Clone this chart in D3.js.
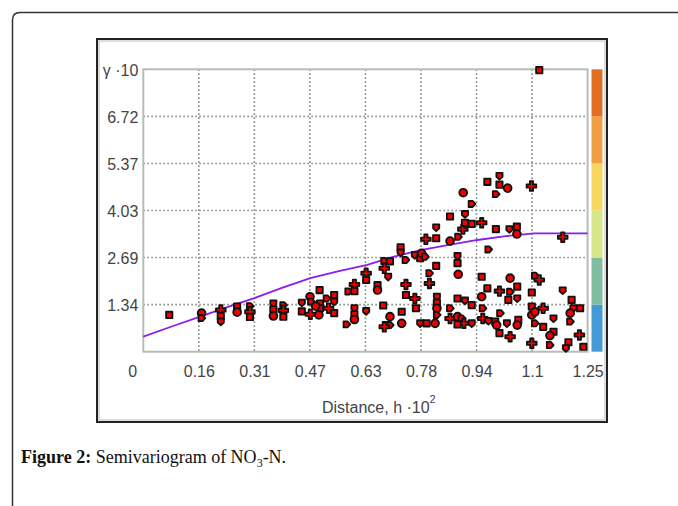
<!DOCTYPE html>
<html>
<head>
<meta charset="utf-8">
<script src="https://cdn.jsdelivr.net/npm/d3@7"></script>
<style>
  html, body { margin: 0; padding: 0; background: #fff; }
  svg { display: block; }
</style>
</head>
<body>
<svg id="chart" width="678" height="506"></svg>
<script>
// Semivariogram of NO3-N: experimental pairs (distance h·10^2, gamma·10) and fitted model

const xTickValues = [0, 0.15625, 0.3125, 0.46875, 0.625, 0.78125, 0.9375, 1.09375, 1.25];
const xTickLabels = ["0", "0.16", "0.31", "0.47", "0.63", "0.78", "0.94", "1.1", "1.25"];
const yTickValues = [1.344, 2.688, 4.032, 5.376, 6.72, 8.064];
const yTickLabels = ["1.34", "2.69", "4.03", "5.37", "6.72", "γ ·10"];

// experimental semivariance pairs
const distances = [
  0.073, 0.164, 0.164, 0.218, 0.218, 0.218, 0.264, 0.264, 0.300, 0.300,
  0.300, 0.366, 0.366, 0.366, 0.394, 0.394, 0.394, 0.446, 0.446, 0.469,
  0.472, 0.470, 0.496, 0.497, 0.497, 0.494, 0.516, 0.521, 0.537, 0.537,
  0.537, 0.485, 0.577, 0.594, 0.594, 0.594, 0.594, 0.594, 0.572, 0.627,
  0.627, 0.627, 0.659, 0.659, 0.678, 0.678, 0.694, 0.689, 0.675, 0.694,
  0.694, 0.678, 0.724, 0.724, 0.727, 0.727, 0.738, 0.739, 0.739, 0.764,
  0.779, 0.783, 0.793, 0.764, 0.767, 0.779, 0.797, 0.821, 0.805, 0.805,
  0.824, 0.826, 0.826, 0.826, 0.826, 0.795, 0.824, 0.824, 0.863, 0.863,
  0.886, 0.899, 0.905, 0.905, 0.924, 0.900, 0.924, 0.952, 0.968, 1.002,
  1.002, 1.025, 0.992, 1.092, 0.992, 1.030, 1.051, 1.051, 0.971, 1.180,
  1.114, 0.884, 0.884, 0.886, 0.863, 0.863, 0.884, 0.905, 0.924, 0.884,
  0.896, 0.902, 0.884, 0.924, 0.952, 0.952, 0.955, 0.955, 0.968, 0.971,
  0.990, 0.994, 1.004, 1.002, 1.002, 1.023, 1.027, 1.032, 1.032, 1.032,
  1.052, 1.052, 1.055, 1.052, 1.102, 1.114, 1.093, 1.180, 1.093, 1.093,
  1.102, 1.125, 1.125, 1.154, 1.154, 1.144, 1.144, 1.093, 1.205, 1.210,
  1.229, 1.201, 1.201, 1.227, 1.196, 1.189, 1.238, 1.102
];
const gammas = [
  1.05, 1.10, 0.96, 1.19, 1.02, 0.86, 1.29, 1.13, 1.30, 1.14,
  0.99, 1.38, 1.21, 1.02, 1.33, 1.18, 1.00, 1.40, 1.15, 1.57,
  1.43, 1.07, 1.76, 1.38, 1.24, 1.05, 1.52, 1.24, 1.62, 1.43,
  1.10, 1.30, 1.72, 1.92, 1.73, 1.24, 1.07, 0.92, 0.78, 2.24,
  2.05, 1.16, 1.90, 1.76, 2.59, 2.38, 2.58, 2.14, 1.32, 1.00,
  0.76, 0.71, 2.98, 2.83, 1.14, 0.81, 2.62, 1.92, 1.62, 2.76,
  2.67, 2.81, 2.71, 1.52, 1.24, 0.81, 0.81, 0.81, 2.24, 1.95,
  2.45, 1.57, 1.40, 1.24, 1.05, 3.21, 3.24, 3.55, 3.86, 3.16,
  3.28, 3.50, 3.68, 3.93, 3.65, 4.54, 4.22, 3.68, 4.85, 5.02,
  4.77, 4.67, 4.50, 4.73, 3.50, 3.50, 3.57, 3.36, 2.92, 3.27,
  8.04, 2.73, 2.53, 2.21, 1.24, 0.95, 1.52, 1.46, 1.33, 1.00,
  0.95, 0.81, 0.78, 0.81, 2.14, 1.57, 1.24, 0.95, 1.81, 0.88,
  0.86, 0.76, 1.10, 1.73, 0.53, 0.81, 1.48, 2.10, 1.71, 0.43,
  1.86, 1.52, 0.91, 0.76, 2.17, 2.05, 1.69, 1.75, 1.29, 1.05,
  0.81, 1.24, 0.71, 0.95, 0.57, 0.46, 0.19, 0.24, 1.48, 1.24,
  1.24, 1.10, 0.86, 0.48, 0.27, 0.10, 0.14, 1.14
];

// fitted model curve
const modelH = [0, 0.08, 0.16, 0.23, 0.31, 0.39, 0.47, 0.55, 0.63, 0.70, 0.78, 0.86, 0.94, 1.02, 1.10, 1.25];
const modelGamma = [0.43, 0.72, 1.00, 1.25, 1.52, 1.82, 2.10, 2.30, 2.48, 2.70, 2.90, 3.05, 3.19, 3.30, 3.38, 3.38];

// colour bar bands (bottom to top)
const bandColors = ["#2f8fd0", "#72b696", "#d2e47c", "#f6d24e", "#ef9230", "#df5e0e"];

const svg = d3.select("#chart");

// outer page box with rounded top-left corner
svg.append("path")
  .attr("d", "M12.5,506 L12.5,20 Q12.5,12.5 20,12.5 L678,12.5")
  .attr("fill", "none").attr("stroke", "#333").attr("stroke-width", 1.5);

// figure frame
svg.append("rect").attr("x", 97).attr("y", 39).attr("width", 510).attr("height", 383)
  .attr("fill", "#fff").attr("stroke", "#222").attr("stroke-width", 2);
svg.append("rect").attr("x", 99).attr("y", 41).attr("width", 506).attr("height", 379)
  .attr("fill", "none").attr("stroke", "#bbb").attr("stroke-width", 1);

const x = d3.scaleLinear().domain([0, 1.25]).range([143.3, 587.6]);
const y = d3.scaleLinear().domain([0, 8.064]).range([351.7, 69.3]);

// grid
const grid = svg.append("g");
grid.selectAll("line.vx").data(xTickValues.slice(1, -1)).enter().append("line")
  .attr("x1", d => x(d)).attr("x2", d => x(d))
  .attr("y1", y(8.064)).attr("y2", y(0))
  .attr("stroke", "#878f87").attr("stroke-width", 1.6).attr("stroke-dasharray", "1.6,2.4");
grid.selectAll("line.hy").data(yTickValues.slice(0, -1)).enter().append("line")
  .attr("x1", x(0)).attr("x2", x(1.25))
  .attr("y1", d => y(d)).attr("y2", d => y(d))
  .attr("stroke", "#878f87").attr("stroke-width", 1.6).attr("stroke-dasharray", "1.6,2.4");

// plot frame
svg.append("rect")
  .attr("x", x(0)).attr("y", y(8.064))
  .attr("width", x(1.25) - x(0)).attr("height", y(0) - y(8.064))
  .attr("fill", "none").attr("stroke", "#b4beb4").attr("stroke-width", 2);

// colour bar
const bandEdges = [0, 1.344, 2.688, 4.032, 5.376, 6.72, 8.064];
svg.selectAll("rect.band").data(bandColors).enter().append("rect")
  .attr("x", 591.5).attr("width", 11)
  .attr("y", (d, i) => y(bandEdges[i + 1]))
  .attr("height", (d, i) => y(bandEdges[i]) - y(bandEdges[i + 1]))
  .attr("fill", d => d).attr("opacity", 0.9);

// model curve
const line = d3.line().x((d, i) => x(modelH[i])).y(d => y(d));
svg.append("path").datum(modelGamma)
  .attr("d", line)
  .attr("fill", "none").attr("stroke", "#8a1ef0").attr("stroke-width", 1.8);

// experimental points: blocky markers (square, round, arrow-pentagon, cross)
const pentagon = {
  draw(ctx, size) {
    const r = Math.sqrt(size) / 2;
    ctx.moveTo(-r, -r);
    ctx.lineTo(r * 0.3, -r);
    ctx.lineTo(r * 1.2, 0);
    ctx.lineTo(r * 0.3, r);
    ctx.lineTo(-r, r);
    ctx.closePath();
  }
};
const shapes = [d3.symbolSquare, d3.symbolCircle, pentagon, d3.symbolCross, d3.symbolSquare, pentagon];
const rot = [0, 0, 0, 0, 0, 90];
const sizes = [40, 48, 38, 52, 40, 38];
svg.append("g").selectAll("path").data(distances).enter().append("path")
  .attr("d", (d, i) => d3.symbol().type(shapes[i % 6]).size(sizes[i % 6])())
  .attr("transform", (d, i) => `translate(${x(d)},${y(gammas[i])}) rotate(${rot[i % 6]})`)
  .attr("fill", "#f00000").attr("stroke", "#111").attr("stroke-width", 1.8)
  .attr("stroke-linejoin", "round");

// axes
const fontFam = "'Liberation Sans', Arial, sans-serif";
const xAxis = d3.axisBottom(x).tickValues(xTickValues)
  .tickFormat((d, i) => xTickLabels[i]).tickSize(0).tickPadding(0);
const gx = svg.append("g").attr("transform", `translate(0,${y(0)})`).call(xAxis);
gx.select(".domain").remove();
gx.selectAll("text")
  .attr("y", 25).attr("dy", 0)
  .attr("dx", (d, i) => i === 0 ? -11 : 0)
  .attr("fill", "#444").style("font-family", fontFam).style("font-size", "16px");

const yAxis = d3.axisLeft(y).tickValues(yTickValues)
  .tickFormat((d, i) => yTickLabels[i]).tickSize(0).tickPadding(5);
const gy = svg.append("g").attr("transform", `translate(${x(0)},0)`).call(yAxis);
gy.select(".domain").remove();
gy.selectAll("text")
  .attr("dy", "0.36em")
  .attr("fill", "#444").style("font-family", fontFam).style("font-size", "16px");

// x axis title
const xt = svg.append("text").attr("x", 322).attr("y", 413)
  .attr("fill", "#444").style("font-family", fontFam).style("font-size", "16px");
xt.append("tspan").text("Distance, h ·10");
xt.append("tspan").attr("dy", -10).style("font-size", "11px").text("2");

// caption
const cap = svg.append("text").attr("x", 21).attr("y", 463)
  .style("font-family", "'Liberation Serif', 'DejaVu Serif', serif").style("font-size", "18px").attr("fill", "#111");
cap.append("tspan").style("font-weight", "bold").text("Figure 2:");
cap.append("tspan").text(" Semivariogram of NO");
cap.append("tspan").attr("dy", 4).style("font-size", "12px").text("3");
cap.append("tspan").attr("dy", -4).text("-N.");
</script>
</body>
</html>
